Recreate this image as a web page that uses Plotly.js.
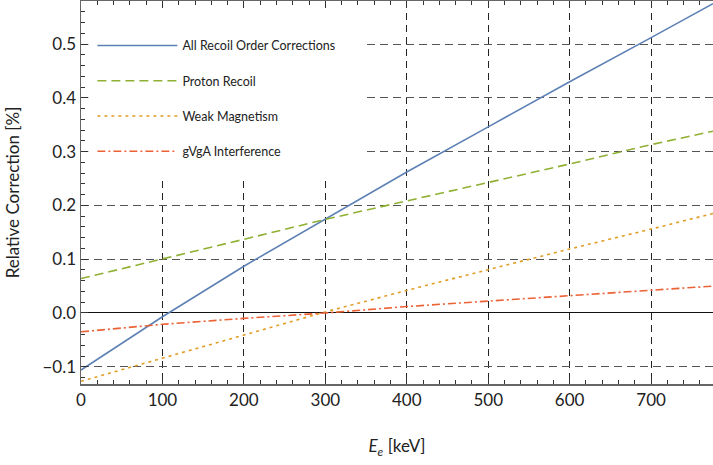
<!DOCTYPE html>
<html>
<head>
<meta charset="utf-8">
<script src="https://cdn.plot.ly/plotly-3.0.1.min.js"></script>
<style>
  html, body { margin: 0; padding: 0; background: #fff; }
  #chart { width: 713px; height: 465px; }
</style>
</head>
<body>
<div id="chart"></div>
<script>
// Electron energy grid [keV]
const energy = [0, 100, 200, 300, 400, 500, 600, 700, 776];

// Relative corrections [%]
const allRecoil   = [-0.106, -0.007, 0.087, 0.174, 0.262, 0.346, 0.430, 0.512, 0.575];
const protonRecoil = [0.064, 0.100, 0.137, 0.174, 0.208, 0.243, 0.277, 0.313, 0.338];
const weakMagnetism = [-0.127, -0.084, -0.040, 0.002, 0.042, 0.081, 0.119, 0.156, 0.185];
const gvgaInterference = [-0.035, -0.021, -0.010, 0.000, 0.012, 0.022, 0.033, 0.042, 0.050];

const seriesNames = [
  'All Recoil Order Corrections',
  'Proton Recoil',
  'Weak Magnetism',
  'gVgA Interference'
];

const font = 'Lato, "DejaVu Sans", sans-serif';

function trace(y, name, color, dash, group) {
  return {
    x: energy, y: y, name: name, type: 'scatter', mode: 'lines',
    legendgroup: group,
    line: { color: color, width: 1.6, dash: dash }
  };
}

const data = [
  trace(allRecoil, seriesNames[0], '#5E81B5', 'solid', 'a'),
  trace(protonRecoil, seriesNames[1], '#8FB032', '9px,5px', 'b'),
  trace(weakMagnetism, seriesNames[2], '#E19C24', '3px,4px', 'c'),
  trace(gvgaInterference, seriesNames[3], '#EB6235', '8px,3px,2px,3px', 'd')
];

const layout = {
  width: 713, height: 465,
  margin: { l: 81, r: 0, t: 1, b: 81 },
  paper_bgcolor: '#fff', plot_bgcolor: '#fff',
  font: { family: font, color: '#222', size: 17 },
  showlegend: true,
  legend: {
    x: 0.018, y: 0.922, xanchor: 'left', yanchor: 'top',
    bgcolor: '#fff', borderwidth: 0,
    font: { family: font, size: 12.5, color: '#222' },
    traceorder: 'grouped', tracegroupgap: 16,
    itemwidth: 80
  },
  xaxis: {
    range: [0, 776],
    dtick: 100, tick0: 0,
    ticks: 'inside', ticklen: 7, tickcolor: '#333', tickwidth: 1,
    showline: true, linecolor: '#666', linewidth: 1.5, mirror: 'allticks',
    showgrid: true, gridcolor: '#222', gridwidth: 1, griddash: '7px,5px',
    zeroline: false,
    minor: { dtick: 20, ticks: 'inside', ticklen: 4, tickcolor: '#333', showgrid: false },
    title: { text: '<i>E</i><sub><i>e</i></sub> [keV]', font: { family: font, size: 17 }, standoff: 31 },
    tickfont: { family: font, size: 17 }
  },
  yaxis: {
    range: [-0.132, 0.58],
    dtick: 0.1, tick0: 0, tickformat: '.1f',
    ticks: 'inside', ticklen: 7, tickcolor: '#333', tickwidth: 1,
    showline: true, linecolor: '#666', linewidth: 1.5, mirror: false,
    showgrid: true, gridcolor: '#555', gridwidth: 1, griddash: '8px,5px',
    zeroline: true, zerolinecolor: '#111', zerolinewidth: 1,
    minor: { dtick: 0.02, ticks: 'inside', ticklen: 4, tickcolor: '#333', showgrid: false },
    title: { text: 'Relative Correction [%]', font: { family: font, size: 17 }, standoff: 18 },
    tickfont: { family: font, size: 17 }
  },
  shapes: [
    {
      // blank panel behind the legend, hiding the grid there (axis ticks stay visible)
      type: 'rect', layer: 'above',
      xref: 'x', yref: 'y',
      x0: 9, x1: 346, y0: 0.247, y1: 0.566,
      fillcolor: '#fff', line: { width: 0 }
    }
  ]
};

Plotly.newPlot('chart', data, layout, { displayModeBar: false, staticPlot: true });
</script>
</body>
</html>
